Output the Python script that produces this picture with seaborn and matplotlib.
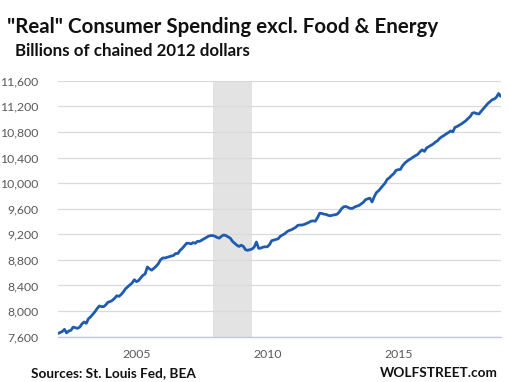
"""
Real consumer spending excl. food & energy, monthly 2002-2018
"""

import pandas as pd
import matplotlib
matplotlib.use("Agg")
import matplotlib.pyplot as plt
from matplotlib.ticker import FuncFormatter
import seaborn as sns

# monthly values, billions of chained 2012 dollars, Jan 2002 .. Dec 2018
spending_2002_2005 = [
    7650, 7665, 7680, 7715, 7660, 7690, 7700, 7750, 7740, 7730, 7750, 7800,
    7830, 7810, 7880, 7910, 7950, 7990, 8040, 8080, 8070, 8070, 8100, 8140,
    8150, 8170, 8200, 8240, 8230, 8260, 8300, 8350, 8380, 8410, 8440, 8490,
]
spending_2005_2008 = [
    8460, 8480, 8520, 8560, 8580, 8690, 8660, 8640, 8670, 8700, 8740, 8800,
    8830, 8830, 8840, 8850, 8860, 8870, 8900, 8900, 8950, 8980, 9020, 9060,
    9060, 9050, 9070, 9060, 9090, 9090, 9110, 9130, 9150, 9170, 9180, 9180,
]
spending_2008_2011 = [
    9170, 9150, 9140, 9170, 9190, 9180, 9160, 9140, 9090, 9060, 9030, 9010,
    9030, 9010, 8960, 8950, 8960, 8970, 9000, 9080, 8980, 8985, 9000, 9005,
    9005, 9040, 9100, 9110, 9120, 9130, 9170, 9190, 9210, 9240, 9260, 9270,
]
spending_2011_2014 = [
    9290, 9310, 9340, 9345, 9345, 9355, 9370, 9385, 9405, 9410, 9405, 9460,
    9530, 9525, 9515, 9510, 9495, 9490, 9500, 9505, 9515, 9550, 9600, 9630,
    9635, 9620, 9605, 9605, 9625, 9640, 9650, 9675, 9700, 9740, 9755, 9765,
]
spending_2014_2017 = [
    9705, 9790, 9850, 9880, 9920, 9960, 10000, 10060, 10085, 10120, 10150, 10200,
    10210, 10215, 10270, 10310, 10340, 10365, 10385, 10410, 10430, 10450, 10490, 10520,
    10495, 10550, 10570, 10590, 10610, 10640, 10660, 10700, 10725, 10745, 10770, 10790,
]
spending_2017_2019 = [
    10815, 10800, 10870, 10885, 10905, 10925, 10950, 10975, 11010, 11040, 11095, 11100,
    11085, 11080, 11120, 11160, 11200, 11240, 11270, 11300, 11315, 11340, 11400, 11355,
]

recession_start = "2007-12-01"
recession_end = "2009-06-01"
tick_years = ["2005-01-01", "2010-01-01", "2015-01-01"]
tick_labels = ["2005", "2010", "2015"]
y_ticks = list(range(7600, 11601, 400))

TITLE = '"Real" Consumer Spending excl. Food & Energy'
SUBTITLE = "Billions of chained 2012 dollars"
SOURCE = "Sources: St. Louis Fed, BEA"
CREDIT = "WOLFSTREET.com"


def build_frame():
    values = (spending_2002_2005 + spending_2005_2008 + spending_2008_2011
              + spending_2011_2014 + spending_2014_2017 + spending_2017_2019)
    dates = pd.date_range("2002-01-01", periods=len(values), freq="MS")
    return pd.DataFrame({"date": dates, "spending": values})


def main():
    df = build_frame()

    sns.set_style("white")
    plt.rcParams["font.family"] = ["Lato", "DejaVu Sans"]

    fig = plt.figure(figsize=(5.1, 3.82), dpi=100)
    ax = fig.add_axes([0.1137, 0.1186, 0.8681, 0.6701])

    ax.axvspan(pd.Timestamp(recession_start), pd.Timestamp(recession_end),
               color="#e3e3e3", lw=0, zorder=0)
    sns.lineplot(data=df, x="date", y="spending", ax=ax,
                 color="#1f5cb0", linewidth=2.0, zorder=3)

    ax.set_xlim(df["date"].iloc[0], df["date"].iloc[-1])
    ax.set_ylim(7600, 11600)
    ax.set_yticks(y_ticks)
    ax.yaxis.set_major_formatter(FuncFormatter(lambda v, p: f"{int(v):,}"))
    ax.set_xticks([pd.Timestamp(t) for t in tick_years])
    ax.set_xticklabels(tick_labels)
    ax.grid(axis="y", color="#dadada", linewidth=0.9, zorder=1)
    ax.set_axisbelow(True)
    ax.set_xlabel("")
    ax.set_ylabel("")

    for side in ["top", "right", "left"]:
        ax.spines[side].set_visible(False)
    ax.spines["bottom"].set_color("#bfcbdc")
    ax.spines["bottom"].set_linewidth(1.0)

    ax.tick_params(axis="y", length=0, pad=14, labelsize=8.8, labelcolor="#595959")
    ax.tick_params(axis="x", length=4.5, width=0.9, color="#bfcbdc",
                   pad=4, labelsize=8.8, labelcolor="#595959", direction="out")

    fig.text(7 / 510, 1 - 33 / 382, TITLE, fontsize=14.8, fontweight="bold",
             color="#111111", va="baseline", ha="left")
    fig.text(15 / 510, 1 - 56 / 382, SUBTITLE, fontsize=12.2, fontweight="bold",
             color="#111111", va="baseline", ha="left")
    fig.text(31 / 510, 1 - 377 / 382, SOURCE, fontsize=9.8, fontweight="bold",
             color="#111111", va="baseline", ha="left")
    fig.text(498 / 510, 1 - 377 / 382, CREDIT, fontsize=9.8, fontweight="bold",
             color="#111111", va="baseline", ha="right")

    fig.savefig("out.png", dpi=100)


if __name__ == "__main__":
    main()
